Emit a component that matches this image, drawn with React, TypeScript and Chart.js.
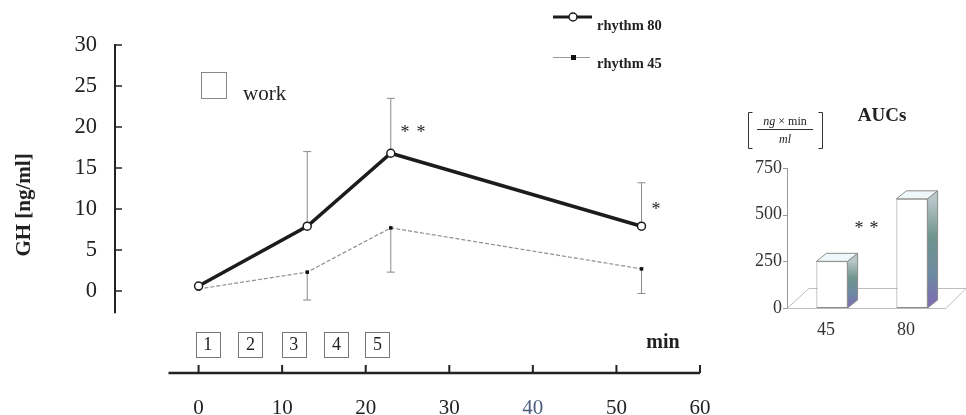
import React, { useEffect, useRef } from "react";
import { Chart, registerables } from "chart.js";

Chart.register(...registerables);

// ---- data ----
const timesMin = [0, 13, 23, 53];
const rhythm80 = [0.6, 7.9, 16.8, 7.9];
const rhythm80Sd = [0, 9.1, 6.7, 5.3];
const rhythm45 = [0.25, 2.3, 7.7, 2.7];
const rhythm45Sd = [0, 3.4, 5.4, 3.0];
const yTicks = [0, 5, 10, 15, 20, 25, 30];
const xTicks = [0, 10, 20, 30, 40, 50, 60];
const workBouts = ["1", "2", "3", "4", "5"];
const workBoutTimes = [1.1, 6.2, 11.4, 16.5, 21.4];
const aucGroups = ["45", "80"];
const aucValues = [250, 585];
const aucTicks = [0, 250, 500, 750];

const SERIF = '"Liberation Serif", "Times New Roman", serif';

const mainDecor = {
  id: "mainDecor",
  beforeDatasetsDraw(chart: any) {
    const ctx = chart.ctx;
    const xs = chart.scales.x;
    const ys = chart.scales.y;
    ctx.save();
    ctx.strokeStyle = "#8a8a8a";
    ctx.lineWidth = 1;
    timesMin.forEach((t, i) => {
      const x = xs.getPixelForValue(t);
      if (rhythm80Sd[i] > 0) {
        const y0 = ys.getPixelForValue(rhythm80[i]);
        const y1 = ys.getPixelForValue(rhythm80[i] + rhythm80Sd[i]);
        ctx.beginPath();
        ctx.moveTo(x, y0);
        ctx.lineTo(x, y1);
        ctx.moveTo(x - 4, y1);
        ctx.lineTo(x + 4, y1);
        ctx.stroke();
      }
      if (rhythm45Sd[i] > 0) {
        const y0 = ys.getPixelForValue(rhythm45[i]);
        const y1 = ys.getPixelForValue(rhythm45[i] - rhythm45Sd[i]);
        ctx.beginPath();
        ctx.moveTo(x, y0);
        ctx.lineTo(x, y1);
        ctx.moveTo(x - 4, y1);
        ctx.lineTo(x + 4, y1);
        ctx.stroke();
      }
    });
    ctx.restore();
  },
  afterDraw(chart: any) {
    const ctx = chart.ctx;
    const xs = chart.scales.x;
    const ys = chart.scales.y;
    const area = chart.chartArea;
    ctx.save();
    // y axis
    ctx.strokeStyle = "#222";
    ctx.lineWidth = 2;
    ctx.beginPath();
    ctx.moveTo(area.left, ys.getPixelForValue(30) - 1);
    ctx.lineTo(area.left, ys.getPixelForValue(-2.7));
    ctx.stroke();
    ctx.lineWidth = 1.5;
    yTicks.forEach((v) => {
      const y = ys.getPixelForValue(v);
      ctx.beginPath();
      ctx.moveTo(area.left, y);
      ctx.lineTo(area.left + 7, y);
      ctx.stroke();
    });
    // x axis
    ctx.lineWidth = 2.5;
    ctx.beginPath();
    ctx.moveTo(xs.getPixelForValue(-3.6), area.bottom);
    ctx.lineTo(xs.getPixelForValue(60), area.bottom);
    ctx.stroke();
    ctx.lineWidth = 2;
    xTicks.forEach((v) => {
      const x = xs.getPixelForValue(v);
      ctx.beginPath();
      ctx.moveTo(x, area.bottom);
      ctx.lineTo(x, area.bottom - 8);
      ctx.stroke();
    });
    // work bouts
    const top = ys.getPixelForValue(-5);
    const bot = ys.getPixelForValue(-8);
    ctx.lineWidth = 1;
    ctx.strokeStyle = "#777";
    ctx.fillStyle = "#222";
    ctx.font = `18px ${SERIF}`;
    ctx.textAlign = "center";
    ctx.textBaseline = "middle";
    workBouts.forEach((lab, i) => {
      const cx = xs.getPixelForValue(workBoutTimes[i]);
      ctx.strokeRect(Math.round(cx - 12) + 0.5, Math.round(top) + 0.5, 24, Math.round(bot - top));
      ctx.fillText(lab, cx, (top + bot) / 2 + 1);
    });
    // min label
    ctx.font = `bold 20px ${SERIF}`;
    ctx.fillText("min", 663, 343);
    // work legend
    ctx.strokeStyle = "#888";
    ctx.strokeRect(201.5, 72.5, 25, 26);
    ctx.textAlign = "left";
    ctx.textBaseline = "alphabetic";
    ctx.font = `21px ${SERIF}`;
    ctx.fillStyle = "#222";
    ctx.fillText("work", 243, 100);
    // y title
    ctx.save();
    ctx.translate(25, 205);
    ctx.rotate(-Math.PI / 2);
    ctx.textAlign = "center";
    ctx.textBaseline = "middle";
    ctx.font = `bold 21px ${SERIF}`;
    ctx.fillText("GH [ng/ml]", 0, 0);
    ctx.restore();
    // series legend
    ctx.strokeStyle = "#1c1c1c";
    ctx.lineWidth = 3;
    ctx.beginPath();
    ctx.moveTo(553, 17);
    ctx.lineTo(592, 17);
    ctx.stroke();
    ctx.fillStyle = "#fff";
    ctx.lineWidth = 1.5;
    ctx.beginPath();
    ctx.arc(573, 17, 4, 0, Math.PI * 2);
    ctx.fill();
    ctx.stroke();
    ctx.strokeStyle = "#9a9a9a";
    ctx.lineWidth = 1;
    ctx.beginPath();
    ctx.moveTo(553, 57.5);
    ctx.lineTo(590, 57.5);
    ctx.stroke();
    ctx.fillStyle = "#111";
    ctx.fillRect(571, 55, 5, 5);
    ctx.fillStyle = "#222";
    ctx.font = `bold 14.5px ${SERIF}`;
    ctx.fillText("rhythm 80", 597, 30);
    ctx.fillText("rhythm 45", 597, 68);
    // significance marks
    ctx.font = `18px ${SERIF}`;
    ctx.textAlign = "center";
    ctx.textBaseline = "middle";
    ctx.fillText("*", 405, 133);
    ctx.fillText("*", 421, 133);
    ctx.fillText("*", 656, 210);
    ctx.restore();
  },
};

const aucDecor = {
  id: "aucDecor",
  beforeDatasetsDraw(chart: any) {
    const ctx = chart.ctx;
    const ys = chart.scales.y;
    const area = chart.chartArea;
    const y0 = ys.getPixelForValue(0);
    const ax = area.left - 5;
    ctx.save();
    // floor
    ctx.strokeStyle = "#bdbdbd";
    ctx.lineWidth = 1;
    ctx.beginPath();
    ctx.moveTo(ax, y0 + 0.5);
    ctx.lineTo(area.right - 6, y0 + 0.5);
    ctx.lineTo(area.right + 14, y0 - 19.5);
    ctx.moveTo(ax, y0 + 0.5);
    ctx.lineTo(ax + 22, y0 - 19.5);
    ctx.lineTo(area.right + 14, y0 - 19.5);
    ctx.stroke();
    // y axis
    ctx.strokeStyle = "#9a9a9a";
    ctx.beginPath();
    ctx.moveTo(ax + 0.5, area.top);
    ctx.lineTo(ax + 0.5, y0);
    ctx.stroke();
    aucTicks.forEach((v) => {
      const y = Math.round(ys.getPixelForValue(v)) + 0.5;
      ctx.beginPath();
      ctx.moveTo(ax - 4, y);
      ctx.lineTo(ax, y);
      ctx.stroke();
    });
    ctx.restore();
  },
  afterDatasetsDraw(chart: any) {
    const ctx = chart.ctx;
    const meta = chart.getDatasetMeta(0);
    const dx = 10;
    const dy = -8;
    ctx.save();
    ctx.lineWidth = 1;
    ctx.strokeStyle = "#8c8c8c";
    meta.data.forEach((bar: any) => {
      const w = bar.width;
      const l = bar.x - w / 2;
      const r = bar.x + w / 2;
      const t = bar.y;
      const b = bar.base;
      // top face
      ctx.fillStyle = "#eef7f9";
      ctx.beginPath();
      ctx.moveTo(l, t);
      ctx.lineTo(l + dx, t + dy);
      ctx.lineTo(r + dx, t + dy);
      ctx.lineTo(r, t);
      ctx.closePath();
      ctx.fill();
      ctx.stroke();
      // side face
      const g = ctx.createLinearGradient(0, t, 0, b);
      g.addColorStop(0, "#b8c6ca");
      g.addColorStop(0.35, "#6f958f");
      g.addColorStop(0.7, "#6c89a2");
      g.addColorStop(1, "#8168b4");
      ctx.fillStyle = g;
      ctx.beginPath();
      ctx.moveTo(r, t);
      ctx.lineTo(r + dx, t + dy);
      ctx.lineTo(r + dx, b + dy);
      ctx.lineTo(r, b);
      ctx.closePath();
      ctx.fill();
      ctx.stroke();
    });
    ctx.restore();
  },
  afterDraw(chart: any) {
    const ctx = chart.ctx;
    ctx.save();
    ctx.fillStyle = "#222";
    ctx.textAlign = "center";
    ctx.textBaseline = "middle";
    ctx.font = `bold 19px ${SERIF}`;
    ctx.fillText("AUCs", 142, 116);
    // unit bracket
    ctx.strokeStyle = "#333";
    ctx.lineWidth = 1;
    ctx.beginPath();
    ctx.moveTo(12.5, 112.5);
    ctx.lineTo(8.5, 112.5);
    ctx.lineTo(8.5, 148.5);
    ctx.lineTo(12.5, 148.5);
    ctx.moveTo(78.5, 112.5);
    ctx.lineTo(82.5, 112.5);
    ctx.lineTo(82.5, 148.5);
    ctx.lineTo(78.5, 148.5);
    ctx.moveTo(17, 129.5);
    ctx.lineTo(73, 129.5);
    ctx.stroke();
    ctx.textAlign = "left";
    ctx.textBaseline = "alphabetic";
    const p1 = "ng";
    ctx.font = `italic 12px ${SERIF}`;
    const w1 = ctx.measureText(p1).width;
    ctx.font = `12px ${SERIF}`;
    const p2 = " \u00d7 min";
    const w2 = ctx.measureText(p2).width;
    const sx = 45 - (w1 + w2) / 2;
    ctx.font = `italic 12px ${SERIF}`;
    ctx.fillText(p1, sx, 125);
    ctx.font = `12px ${SERIF}`;
    ctx.fillText(p2, sx + w1, 125);
    ctx.font = `italic 12px ${SERIF}`;
    ctx.textAlign = "center";
    ctx.fillText("ml", 45, 143);
    // significance
    ctx.font = `18px ${SERIF}`;
    ctx.textBaseline = "middle";
    ctx.fillText("*", 119, 229);
    ctx.fillText("*", 134, 229);
    ctx.restore();
  },
};

export default function App() {
  const mainRef = useRef<HTMLCanvasElement | null>(null);
  const aucRef = useRef<HTMLCanvasElement | null>(null);

  useEffect(() => {
    const c1 = mainRef.current!;
    const c2 = aucRef.current!;
    const main = new Chart(c1, {
      type: "line",
      data: {
        datasets: [
          {
            label: "rhythm 80",
            data: timesMin.map((t, i) => ({ x: t, y: rhythm80[i] })),
            borderColor: "#1c1c1c",
            borderWidth: 3.5,
            pointStyle: "circle",
            pointRadius: 4,
            pointBackgroundColor: "#fff",
            pointBorderColor: "#1c1c1c",
            pointBorderWidth: 1.5,
            tension: 0,
          },
          {
            label: "rhythm 45",
            data: timesMin.map((t, i) => ({ x: t, y: rhythm45[i] })),
            borderColor: "#8f8f8f",
            borderWidth: 1.2,
            borderDash: [4, 2],
            pointStyle: "rect",
            pointRadius: 2.5,
            pointBackgroundColor: "#111",
            pointBorderColor: "#111",
            pointBorderWidth: 0,
            tension: 0,
          },
        ],
      },
      options: {
        responsive: false,
        animation: false,
        layout: { padding: { left: 0, top: 45, right: 40, bottom: 0 } },
        plugins: { legend: { display: false }, tooltip: { enabled: false } },
        scales: {
          x: {
            type: "linear",
            min: -10,
            max: 60,
            afterBuildTicks: (s: any) => {
              s.ticks = xTicks.map((v) => ({ value: v }));
            },
            afterFit: (s: any) => {
              s.height = 42;
            },
            grid: { display: false },
            border: { display: false },
            ticks: {
              padding: 15,
              autoSkip: false,
              maxRotation: 0,
              font: { family: SERIF, size: 21 },
              color: (c: any) => (c.tick && c.tick.value === 40 ? "#4d5f7c" : "#222"),
            },
          },
          y: {
            type: "linear",
            min: -10,
            max: 30,
            afterBuildTicks: (s: any) => {
              s.ticks = yTicks.map((v) => ({ value: v }));
            },
            afterFit: (s: any) => {
              s.width = 115;
            },
            grid: { display: false },
            border: { display: false },
            ticks: {
              padding: 10,
              autoSkip: false,
              font: { family: SERIF, size: 22.5 },
              color: "#222",
            },
          },
        },
      } as any,
      plugins: [mainDecor],
    });

    const auc = new Chart(c2, {
      type: "bar",
      data: {
        labels: aucGroups,
        datasets: [
          {
            data: aucValues,
            backgroundColor: "#ffffff",
            borderColor: "#8c8c8c",
            borderWidth: 1,
            borderSkipped: false,
            categoryPercentage: 1,
            barPercentage: 0.39,
          },
        ],
      },
      options: {
        responsive: false,
        animation: false,
        layout: { padding: { left: 0, top: 168, right: 14, bottom: 0 } },
        plugins: { legend: { display: false }, tooltip: { enabled: false } },
        scales: {
          x: {
            afterFit: (s: any) => {
              s.height = 107;
            },
            grid: { display: false },
            border: { display: false },
            ticks: {
              labelOffset: -6,
              padding: 3,
              font: { family: SERIF, size: 18 },
              color: "#333",
            },
          },
          y: {
            min: 0,
            max: 750,
            afterBuildTicks: (s: any) => {
              s.ticks = aucTicks.map((v) => ({ value: v }));
            },
            afterFit: (s: any) => {
              s.width = 52;
            },
            grid: { display: false },
            border: { display: false },
            ticks: {
              padding: 2,
              font: { family: SERIF, size: 18 },
              color: "#333",
            },
          },
        },
      } as any,
      plugins: [aucDecor],
    });

    return () => {
      main.destroy();
      auc.destroy();
    };
  }, []);

  return (
    <div
      style={{
        position: "fixed",
        left: 0,
        top: 0,
        width: 966,
        height: 415,
        background: "#fff",
        overflow: "hidden",
      }}
    >
      <canvas
        ref={mainRef}
        width={740}
        height={415}
        style={{ position: "absolute", left: 0, top: 0, width: 740, height: 415 }}
      />
      <canvas
        ref={aucRef}
        width={226}
        height={415}
        style={{ position: "absolute", left: 740, top: 0, width: 226, height: 415 }}
      />
    </div>
  );
}
